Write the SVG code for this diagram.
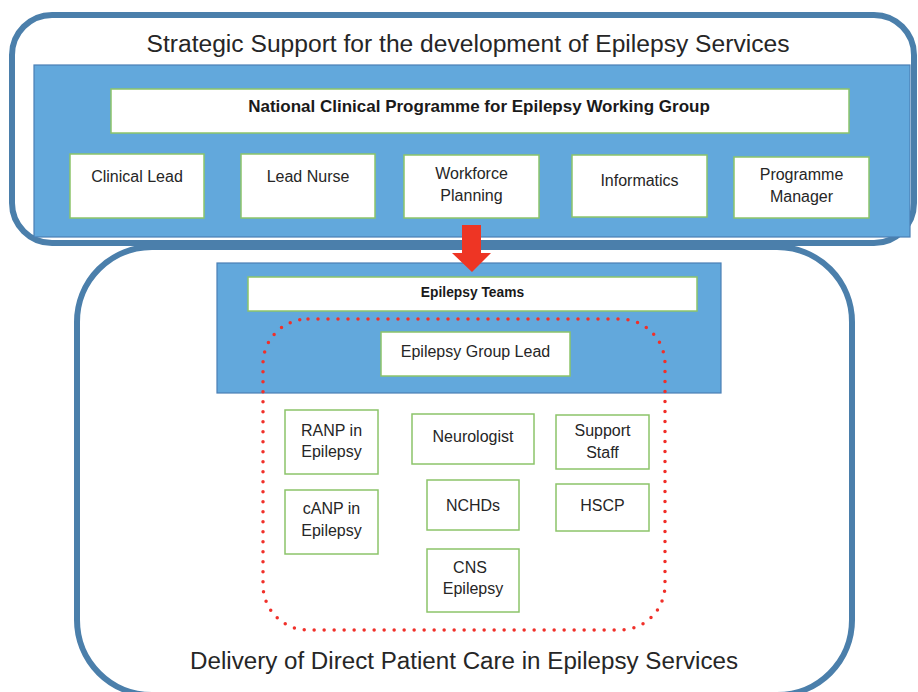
<svg xmlns="http://www.w3.org/2000/svg" width="918" height="692" viewBox="0 0 918 692">
<defs>
<style>
.outer{fill:#ffffff;stroke:#4b7fab;stroke-width:6}
.panel{fill:#62a8dc;stroke:#4a7fb5;stroke-width:1.2}
.box{fill:#ffffff;stroke:#8cc46a;stroke-width:1.5}
.t{font-family:"Liberation Sans",Arial,sans-serif;font-size:16px;fill:#262626;text-anchor:middle}
.b{font-family:"Liberation Sans",Arial,sans-serif;font-weight:bold;fill:#1a1a1a;text-anchor:middle}
.title{font-family:"Liberation Sans",Arial,sans-serif;font-size:23px;fill:#262626;text-anchor:middle}
.dots{fill:none;stroke:#f0302a;stroke-width:3.5;stroke-linecap:round;stroke-dasharray:0 10}
</style>
</defs>
<rect width="918" height="692" fill="#ffffff"/>

<g id="delivery-frame">
<rect class="outer" x="77" y="247" width="775" height="448" rx="75" ry="75"/>
<text class="title" x="464" y="669" textLength="548" lengthAdjust="spacingAndGlyphs">Delivery of Direct Patient Care in Epilepsy Services</text>
</g>

<g id="strategic-frame">
<rect class="outer" x="12" y="15" width="902" height="228" rx="40" ry="40"/>
<text class="title" x="468" y="52" textLength="643" lengthAdjust="spacingAndGlyphs">Strategic Support for the development of Epilepsy Services</text>
<rect class="panel" x="34" y="65" width="876" height="172"/>
</g>

<g id="ncp">
<rect class="box" x="111" y="89" width="738" height="44"/>
<text class="b" x="479" y="112" font-size="17">National Clinical Programme for Epilepsy Working Group</text>
</g>
<g id="clinical-lead">
<rect class="box" x="70" y="154" width="134" height="64"/>
<text class="t" x="137" y="182">Clinical Lead</text>
</g>
<g id="lead-nurse">
<rect class="box" x="241" y="154" width="134" height="64"/>
<text class="t" x="308" y="182">Lead Nurse</text>
</g>
<g id="workforce-planning">
<rect class="box" x="404" y="155" width="135" height="63"/>
<text class="t" x="471.5" y="179">Workforce</text>
<text class="t" x="471.5" y="201">Planning</text>
</g>
<g id="informatics">
<rect class="box" x="572" y="155" width="135" height="62"/>
<text class="t" x="639.5" y="186">Informatics</text>
</g>
<g id="programme-manager">
<rect class="box" x="734" y="157" width="135" height="61"/>
<text class="t" x="801.5" y="180">Programme</text>
<text class="t" x="801.5" y="202">Manager</text>
</g>

<g id="epilepsy-teams-panel">
<rect class="panel" x="217" y="263" width="504" height="130"/>
</g>
<g id="epilepsy-teams">
<rect class="box" x="248" y="277" width="449" height="34"/>
<text class="b" x="472.5" y="297" font-size="13.8">Epilepsy Teams</text>
</g>

<g id="connectors">
<polygon points="462,225 481,225 481,253 491,253 472,272 452,253 462,253" fill="#ee3524"/>
<rect class="dots" x="263" y="319" width="402" height="311" rx="45" ry="45"/>
</g>

<g id="group-lead">
<rect class="box" x="381" y="332" width="189" height="44"/>
<text class="t" x="475.5" y="357">Epilepsy Group Lead</text>
</g>
<g id="ranp">
<rect class="box" x="285" y="410" width="93" height="64"/>
<text class="t" x="331.5" y="436">RANP in</text>
<text class="t" x="331.5" y="457">Epilepsy</text>
</g>
<g id="neurologist">
<rect class="box" x="412" y="414" width="122" height="50"/>
<text class="t" x="473" y="442">Neurologist</text>
</g>
<g id="support-staff">
<rect class="box" x="556" y="415" width="93" height="54"/>
<text class="t" x="602.5" y="436">Support</text>
<text class="t" x="602.5" y="458">Staff</text>
</g>
<g id="canp">
<rect class="box" x="285" y="490" width="93" height="64"/>
<text class="t" x="331.5" y="514">cANP in</text>
<text class="t" x="331.5" y="536">Epilepsy</text>
</g>
<g id="nchds">
<rect class="box" x="427" y="480" width="92" height="50"/>
<text class="t" x="473" y="511">NCHDs</text>
</g>
<g id="hscp">
<rect class="box" x="556" y="484" width="93" height="47"/>
<text class="t" x="602.5" y="511">HSCP</text>
</g>
<g id="cns">
<rect class="box" x="427" y="549" width="92" height="63"/>
<text class="t" x="470" y="573">CNS</text>
<text class="t" x="473" y="594">Epilepsy</text>
</g>
</svg>
